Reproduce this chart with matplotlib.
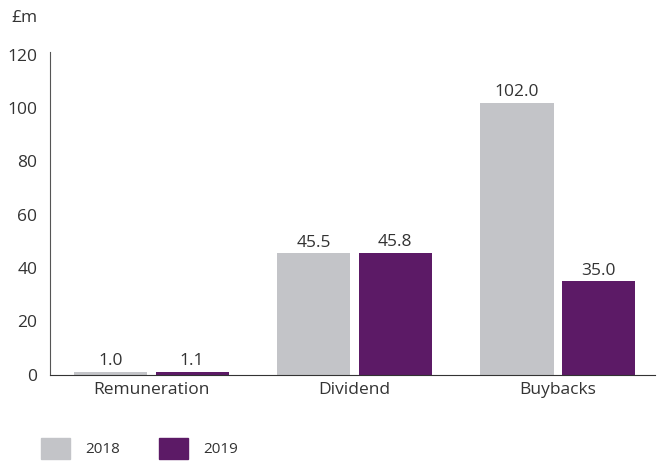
import matplotlib.pyplot as plt
import numpy as np
from matplotlib.patches import Patch

plt.rcParams['font.family'] = ['Open Sans', 'DejaVu Sans']

categories = ['Remuneration', 'Dividend', 'Buybacks']
values_2018 = [1.0, 45.5, 102.0]
values_2019 = [1.1, 45.8, 35.0]
series_names = ['2018', '2019']
colors = ['#c3c4c8', '#5c1a66']
text_color = '#333333'

fig = plt.figure(figsize=(6.57, 4.61), dpi=100)
ax = fig.add_axes([0.076, 0.187, 0.921, 0.70])

x = np.arange(len(categories))
width = 0.36
offset = 0.2
for vals, dx, col in [(values_2018, -offset, colors[0]), (values_2019, offset, colors[1])]:
    bars = ax.bar(x + dx, vals, width=width, color=col)
    for b, v in zip(bars, vals):
        ax.annotate(f'{v:.1f}', (b.get_x() + b.get_width() / 2, v),
                    xytext=(0, 2), textcoords='offset points',
                    ha='center', va='bottom', fontsize=12.5, color=text_color)

ax.set_xlim(-0.5, 2.48)
ax.set_ylim(0, 121)
ax.set_yticks(range(0, 121, 20))
ax.set_xticks(x)
ax.set_xticklabels(categories)
ax.tick_params(axis='both', length=0, labelsize=12.5, labelcolor=text_color)
ax.tick_params(axis='y', pad=9)
ax.tick_params(axis='x', pad=5.5)
ax.spines['top'].set_visible(False)
ax.spines['right'].set_visible(False)
ax.spines['left'].set_color('#555555')
ax.spines['bottom'].set_color('#333333')

fig.text(0.018, 0.96, '£m', fontsize=12.5, color=text_color, va='center')

handles = [Patch(color=c) for c in colors]
fig.legend(handles, series_names, loc='lower left', bbox_to_anchor=(0.042, -0.025),
           ncol=2, frameon=False, fontsize=11, handlelength=1.85, handleheight=1.7,
           columnspacing=2.6, handletextpad=1.0, labelcolor=text_color)

fig.savefig('out.png', dpi=100)
